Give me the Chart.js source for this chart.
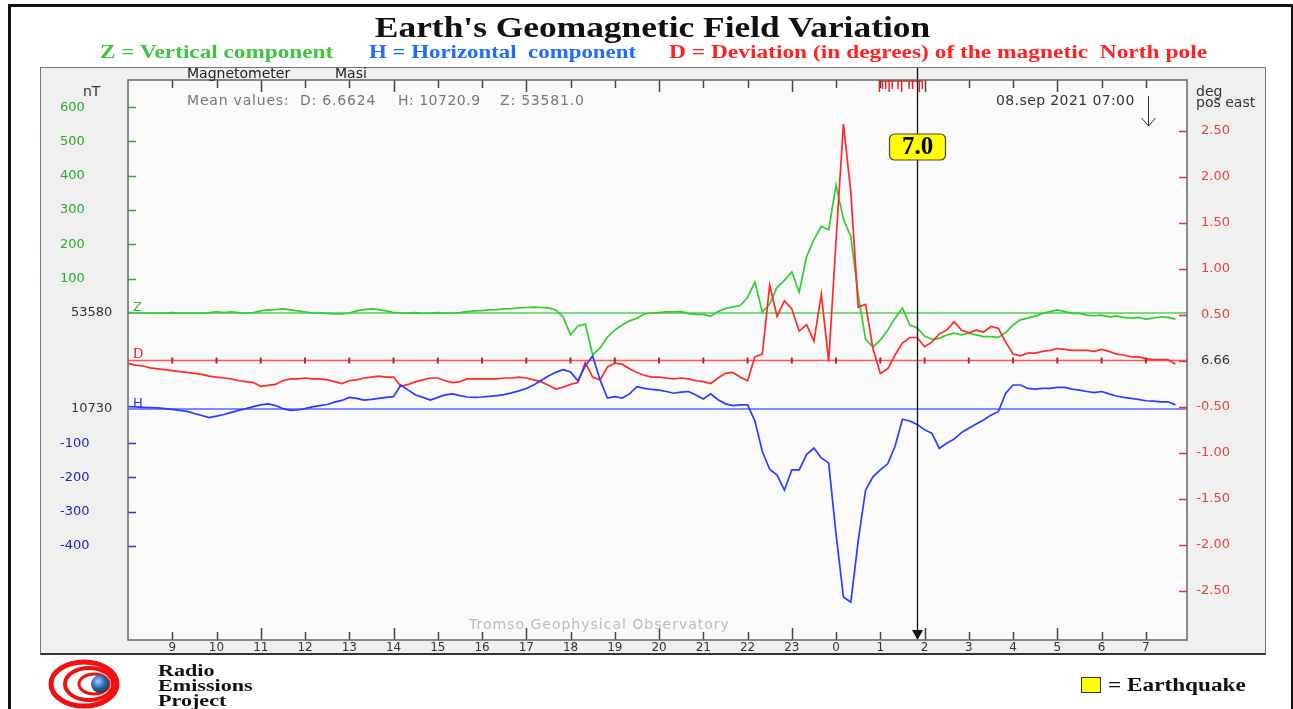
<!DOCTYPE html>
<html>
<head>
<meta charset="utf-8">
<script src="https://cdn.jsdelivr.net/npm/chart.js@4.4.1/dist/chart.umd.min.js"></script>
<style>
  body { margin: 0; width: 1293px; height: 709px; overflow: hidden; background: #fff; position: relative; font-family: "DejaVu Sans", sans-serif; }
  .abs { position: absolute; white-space: pre; }
  #frame { position: absolute; left: 8px; top: 4px; width: 1280px; height: 760px; border: 3px solid #111; }
  #panel { position: absolute; left: 40px; top: 67px; width: 1224px; height: 585px; background: #f0f0f0; border: 1px solid #777; border-bottom: 2px solid #333; }
  #chart { position: absolute; left: 0; top: 0; }
  .serif { font-family: "Liberation Serif", serif; font-weight: bold; }
  .small { font-size: 14px; line-height: 14px; }
  .wide { transform-origin: left center; }
</style>
</head>
<body>
<div id="frame"></div>
<div id="panel"></div>
<canvas id="chart" width="1293" height="709"></canvas>

<div class="abs serif" style="left:6px; top:12px; width:1293px; text-align:center; font-size:29px; line-height:30px; color:#111; transform:scaleX(1.22);">Earth's Geomagnetic Field Variation</div>
<div class="abs serif wide" style="left:100px; top:43px; font-size:18px; line-height:18px; color:#3ec43e; transform:scaleX(1.29);">Z = Vertical component</div>
<div class="abs serif wide" style="left:369px; top:43px; font-size:18px; line-height:18px; color:#1f6bff; transform:scaleX(1.27);">H = Horizontal  component</div>
<div class="abs serif wide" style="left:669px; top:43px; font-size:18px; line-height:18px; color:#ff2222; transform:scaleX(1.30);">D = Deviation (in degrees) of the magnetic  North pole</div>

<div class="abs small" style="left:187px; top:66px; color:#222;">Magnetometer</div>
<div class="abs small" style="left:335px; top:66px; color:#222;">Masi</div>
<div class="abs small" style="left:83px; top:84px; color:#333;">nT</div>
<div class="abs small" style="left:187px; top:93px; color:#777; letter-spacing:0.8px;">Mean values:</div>
<div class="abs small" style="left:300px; top:93px; color:#777; letter-spacing:0.8px;">D: 6.6624</div>
<div class="abs small" style="left:398px; top:93px; color:#777; letter-spacing:0.5px;">H: 10720.9</div>
<div class="abs small" style="left:500px; top:93px; color:#777; letter-spacing:0.8px;">Z: 53581.0</div>
<div class="abs small" style="left:996px; top:93px; color:#333; letter-spacing:0.4px;">08.sep 2021 07:00</div>
<div class="abs small" style="left:1196px; top:84px; color:#333;">deg</div>
<div class="abs small" style="left:1196px; top:95px; color:#333;">pos east</div>
<div class="abs small" style="left:469px; top:617px; color:#bbb; letter-spacing:1px;">Tromso Geophysical Observatory</div>

<svg class="abs" style="left:40px; top:656px;" width="90" height="53">
  <defs>
    <radialGradient id="globe" cx="40%" cy="35%" r="70%">
      <stop offset="0%" stop-color="#9fd0ff"/>
      <stop offset="55%" stop-color="#2a62b8"/>
      <stop offset="100%" stop-color="#1d3b2a"/>
    </radialGradient>
  </defs>
  <g fill="none" stroke="#ee1111">
    <ellipse cx="44" cy="28" rx="33" ry="22" stroke-width="5"/>
    <ellipse cx="49" cy="28" rx="24" ry="16" stroke-width="4"/>
    <ellipse cx="54" cy="28" rx="15" ry="10" stroke-width="3"/>
  </g>
  <circle cx="60" cy="28" r="9" fill="url(#globe)"/>
</svg>
<div class="abs serif wide" style="left:158px; top:663px; font-size:17px; line-height:15px; color:#111; transform:scaleX(1.3);">Radio
Emissions
Project</div>

<div class="abs" style="left:1081px; top:677px; width:18px; height:14px; background:#ffff00; border:1px solid #333;"></div>
<div class="abs serif wide" style="left:1108px; top:675px; font-size:18px; line-height:20px; color:#111; transform:scaleX(1.29);">= Earthquake</div>

<script>
// samples every 10 minutes, starting 7 sep 2021 08:00 (UT)
const startHour = 8;
const stepMinutes = 10;

const zBase = 53580; // nT
const hBase = 10730; // nT
const dBase = 6.66;  // deg

const zValues = [
  53581, 53580, 53580, 53580, 53580, 53580, 53581, 53580, 53580, 53580,
  53580, 53581, 53583, 53581, 53583, 53581, 53580, 53581, 53586, 53589,
  53590, 53592, 53589, 53586, 53583, 53580, 53580, 53579, 53577, 53577,
  53580, 53586, 53590, 53592, 53590, 53586, 53581, 53580, 53580, 53581,
  53579, 53580, 53581, 53580, 53580, 53581, 53584, 53586, 53587, 53589,
  53590, 53592, 53593, 53595, 53596, 53597, 53596, 53595, 53589, 53568,
  53516, 53542, 53548, 53458, 53478, 53510, 53530, 53545, 53557, 53565,
  53577, 53580, 53581, 53583, 53583, 53584, 53578, 53576, 53576, 53570,
  53584, 53593, 53598, 53601, 53626, 53670, 53583, 53606, 53655, 53675,
  53700, 53641, 53744, 53794, 53833, 53822, 53953, 53853, 53803, 53632,
  53504, 53481, 53501, 53530, 53565, 53595, 53545, 53536, 53513, 53503,
  53506, 53516, 53521, 53516, 53521, 53516, 53511, 53511, 53509, 53523,
  53545, 53560, 53565, 53571, 53579, 53584, 53589, 53584, 53579, 53579,
  53574, 53572, 53574, 53569, 53571, 53567, 53565, 53567, 53562, 53565,
  53569, 53567, 53562
];

const hValues = [
  10737, 10736, 10735, 10734, 10733, 10731, 10729, 10726, 10723, 10717,
  10711, 10705, 10709, 10714, 10720, 10726, 10731, 10737, 10742, 10745,
  10740, 10731, 10726, 10727, 10731, 10736, 10740, 10743, 10750, 10755,
  10764, 10761, 10756, 10758, 10761, 10764, 10766, 10800, 10785, 10771,
  10764, 10756, 10764, 10771, 10774, 10769, 10765, 10764, 10765, 10767,
  10769, 10772, 10777, 10783, 10790, 10800, 10813, 10826, 10837, 10845,
  10838, 10812, 10856, 10885, 10815, 10762, 10766, 10762, 10774, 10795,
  10790, 10787, 10785, 10781, 10776, 10779, 10781, 10771, 10759, 10774,
  10757, 10745, 10740, 10742, 10742, 10695, 10606, 10554, 10537, 10493,
  10552, 10552, 10597, 10616, 10587, 10572, 10364, 10181, 10166, 10345,
  10493, 10532, 10552, 10570, 10621, 10700, 10695, 10685, 10669, 10659,
  10615, 10630, 10642, 10661, 10674, 10686, 10698, 10712, 10722, 10776,
  10800, 10800, 10790, 10788, 10790, 10790, 10793, 10793, 10788, 10785,
  10781, 10778, 10781, 10774, 10768, 10764, 10761, 10758, 10754, 10753,
  10751, 10751, 10742
];

const dValues = [
  6.63, 6.61, 6.60, 6.58, 6.57, 6.56, 6.55, 6.54, 6.53, 6.52,
  6.51, 6.49, 6.48, 6.47, 6.46, 6.44, 6.43, 6.42, 6.38, 6.39,
  6.40, 6.44, 6.46, 6.46, 6.47, 6.46, 6.46, 6.45, 6.43, 6.41,
  6.44, 6.45, 6.47, 6.48, 6.49, 6.48, 6.48, 6.38, 6.40, 6.43,
  6.45, 6.47, 6.47, 6.44, 6.42, 6.43, 6.46, 6.46, 6.46, 6.46,
  6.46, 6.47, 6.47, 6.48, 6.47, 6.45, 6.43, 6.39, 6.35, 6.37,
  6.40, 6.42, 6.64, 6.48, 6.45, 6.59, 6.63, 6.62, 6.57, 6.53,
  6.50, 6.48, 6.48, 6.47, 6.46, 6.47, 6.46, 6.44, 6.43, 6.41,
  6.47, 6.52, 6.53, 6.48, 6.44, 6.70, 6.73, 7.48, 7.14, 7.31,
  7.22, 6.98, 7.05, 6.87, 7.38, 6.65, 7.97, 9.23, 8.49, 7.24,
  7.27, 6.79, 6.52, 6.57, 6.72, 6.85, 6.91, 6.91, 6.81, 6.86,
  6.95, 6.99, 7.08, 6.99, 6.96, 6.99, 6.97, 7.03, 7.01, 6.86,
  6.73, 6.71, 6.74, 6.74, 6.76, 6.77, 6.79, 6.78, 6.77, 6.77,
  6.77, 6.76, 6.78, 6.76, 6.73, 6.72, 6.70, 6.70, 6.68, 6.67,
  6.67, 6.67, 6.62
];

// tick offsets from the baselines
const zTickSteps = [600, 500, 400, 300, 200, 100];
const hTickSteps = [-100, -200, -300, -400];
const dTickSteps = [2.5, 2.0, 1.5, 1.0, 0.5, -0.5, -1.0, -1.5, -2.0, -2.5];
const hourTicks = [9, 10, 11, 12, 13, 14, 15, 16, 17, 18, 19, 20, 21, 22, 23, 0, 1, 2, 3, 4, 5, 6, 7];

// earthquake: 8 sep 01:50, magnitude 7.0
const quakeHour = 1 + 50 / 60;
const quakeMag = "7.0";
const nowHour = 7; // 08.sep 07:00
const flagHours = [0.98, 1.05, 1.12, 1.2, 1.27, 1.4, 1.48, 1.65, 1.73, 1.88, 1.95];

const toX = (h) => ((h - startHour + 24) % 24); // hours since start
const series = (vals) => vals.map((v, i) => ({ x: i * stepMinutes / 60, y: v }));
const xMax = 23.93;
const flat = (v) => [{ x: 0, y: v }, { x: xMax, y: v }];

const tickFont = { family: "DejaVu Sans", size: 13 };
const hidden = { display: false, drawTicks: false };

function fixWidth(w) {
  return (scale) => { scale.width = w; };
}

const chartPlugin = {
  id: "geomag",
  beforeDraw(chart) {
    const { ctx, chartArea: a } = chart;
    ctx.save();
    ctx.fillStyle = "#fafafa";
    ctx.fillRect(a.left, a.top, a.right - a.left, a.bottom - a.top);
    ctx.restore();
  },
  afterDatasetsDraw(chart) {
    const { ctx, chartArea: a, scales } = chart;
    const x = scales.x;
    ctx.save();
    // baseline letters
    ctx.font = "13px 'DejaVu Sans'";
    ctx.textBaseline = "bottom";
    ctx.fillStyle = "#33bb33";
    ctx.fillText("Z", a.left + 5, scales.yZ.getPixelForValue(zBase) + 1);
    ctx.fillStyle = "#ee2222";
    ctx.font = "14px 'Liberation Serif'";
    ctx.fillText("D", a.left + 5, scales.yD.getPixelForValue(dBase) + 1);
    ctx.fillStyle = "#2233ee";
    ctx.font = "13px 'DejaVu Sans'";
    ctx.fillText("H", a.left + 5, scales.yH.getPixelForValue(hBase) + 1);

    // hour marks on the D baseline
    const yd = scales.yD.getPixelForValue(dBase);
    ctx.strokeStyle = "#a03030";
    ctx.lineWidth = 2;
    hourTicks.forEach((h) => {
      const px = x.getPixelForValue(toX(h));
      ctx.beginPath();
      ctx.moveTo(px, yd - 3);
      ctx.lineTo(px, yd + 3);
      ctx.stroke();
    });

    // red flags at the top
    ctx.strokeStyle = "#ee2222";
    ctx.lineWidth = 1.5;
    const f0 = x.getPixelForValue(toX(flagHours[0]));
    const f1 = x.getPixelForValue(toX(flagHours[flagHours.length - 1]));
    ctx.beginPath();
    ctx.moveTo(f0, a.top + 1);
    ctx.lineTo(f1, a.top + 1);
    ctx.stroke();
    flagHours.forEach((h, i) => {
      const px = x.getPixelForValue(toX(h));
      ctx.beginPath();
      ctx.moveTo(px, a.top);
      ctx.lineTo(px, a.top + (i % 3 === 0 ? 12 : 9));
      ctx.stroke();
    });

    // earthquake line
    const qx = Math.round(x.getPixelForValue(toX(quakeHour))) + 0.5;
    ctx.strokeStyle = "#111";
    ctx.lineWidth = 1.3;
    ctx.beginPath();
    ctx.moveTo(qx, 68);
    ctx.lineTo(qx, a.bottom - 8);
    ctx.stroke();
    ctx.fillStyle = "#111";
    ctx.beginPath();
    ctx.moveTo(qx - 5.5, a.bottom - 10);
    ctx.lineTo(qx + 5.5, a.bottom - 10);
    ctx.lineTo(qx, a.bottom);
    ctx.closePath();
    ctx.fill();

    // magnitude box
    const bw = 56, bh = 26, by = 134;
    ctx.fillStyle = "#ffff00";
    ctx.strokeStyle = "#444";
    ctx.lineWidth = 1.2;
    ctx.beginPath();
    ctx.roundRect(qx - bw / 2, by, bw, bh, 5);
    ctx.fill();
    ctx.stroke();
    ctx.fillStyle = "#000";
    ctx.font = "bold 25px 'Liberation Serif'";
    ctx.textAlign = "center";
    ctx.textBaseline = "middle";
    ctx.fillText(quakeMag, qx, by + bh / 2 + 1);

    // "now" arrow
    const nx = Math.round(x.getPixelForValue(toX(nowHour))) + 2.5;
    ctx.strokeStyle = "#333";
    ctx.lineWidth = 1;
    ctx.beginPath();
    ctx.moveTo(nx, 96);
    ctx.lineTo(nx, 126);
    ctx.moveTo(nx - 7, 118);
    ctx.lineTo(nx, 126);
    ctx.lineTo(nx + 7, 118);
    ctx.stroke();
    ctx.restore();
  },
  afterDraw(chart) {
    const { ctx, chartArea: a, scales } = chart;
    ctx.save();
    // axis ticks drawn inward
    ctx.lineWidth = 1.5;
    ctx.strokeStyle = "#444";
    scales.x.ticks.forEach((t) => {
      const px = Math.round(scales.x.getPixelForValue(t.value)) + 0.5;
      const len = ((t.value + startHour) % 3 === 2) ? 12 : 8;
      ctx.beginPath();
      ctx.moveTo(px, a.top);
      ctx.lineTo(px, a.top + len);
      ctx.moveTo(px, a.bottom);
      ctx.lineTo(px, a.bottom - len);
      ctx.stroke();
    });
    const side = (scale, color, x0, x1) => {
      ctx.strokeStyle = color;
      scale.ticks.forEach((t) => {
        const py = Math.round(scale.getPixelForValue(t.value)) + 0.5;
        ctx.beginPath();
        ctx.moveTo(x0, py);
        ctx.lineTo(x1, py);
        ctx.stroke();
      });
    };
    side(scales.yZ, "#33aa33", a.left, a.left + 8);
    side(scales.yH, "#2233dd", a.left, a.left + 8);
    side(scales.yD, "#ee3333", a.right - 8, a.right);
    // plot frame
    ctx.strokeStyle = "#666";
    ctx.lineWidth = 1.5;
    ctx.strokeRect(a.left, a.top, a.right - a.left, a.bottom - a.top);
    ctx.restore();
  }
};

new Chart(document.getElementById("chart"), {
  type: "line",
  data: {
    datasets: [
      { label: "H", data: series(hValues), yAxisID: "yH", borderColor: "#2a3cff", borderWidth: 1.7 },
      { label: "D", data: series(dValues), yAxisID: "yD", borderColor: "#ff2a2a", borderWidth: 1.7 },
      { label: "Z", data: series(zValues), yAxisID: "yZ", borderColor: "#33cc33", borderWidth: 1.7 },
      { label: "H base", data: flat(hBase), yAxisID: "yH", borderColor: "#5566ff", borderWidth: 1.6 },
      { label: "D base", data: flat(dBase), yAxisID: "yD", borderColor: "#ff5555", borderWidth: 1.6 },
      { label: "Z base", data: flat(zBase), yAxisID: "yZ", borderColor: "#55cc55", borderWidth: 1.6 }
    ]
  },
  options: {
    responsive: false,
    animation: false,
    devicePixelRatio: 1,
    layout: { padding: { left: 60, right: 63, top: 80, bottom: 53 } },
    elements: { point: { radius: 0 }, line: { tension: 0 } },
    plugins: { legend: { display: false }, tooltip: { enabled: false } },
    scales: {
      x: {
        type: "linear",
        min: 0,
        max: xMax,
        grid: hidden,
        border: { display: false },
        afterFit: (s) => { s.height = 16; },
        afterBuildTicks: (s) => { s.ticks = hourTicks.map((h) => ({ value: toX(h) })); },
        ticks: {
          autoSkip: false,
          maxRotation: 0,
          padding: 1,
          color: "#333",
          font: { family: "DejaVu Sans", size: 12 },
          callback: (v) => String((v + startHour) % 24)
        }
      },
      // zero-width label axes at the outer edge (mirrored so they are not clipped)
      yHb: {
        position: "left",
        weight: 6,
        min: hBase - 674.5,
        max: hBase + 960.6,
        grid: hidden,
        border: { display: false },
        afterFit: fixWidth(0),
        afterBuildTicks: (s) => { s.ticks = [{ value: hBase }]; },
        ticks: { autoSkip: false, mirror: true, crossAlign: "far", padding: 11, color: "#333", font: tickFont, callback: (v) => String(v) }
      },
      yZb: {
        position: "left",
        weight: 5,
        min: zBase - 953.4,
        max: zBase + 679.3,
        grid: hidden,
        border: { display: false },
        afterFit: fixWidth(0),
        afterBuildTicks: (s) => { s.ticks = [{ value: zBase }]; },
        ticks: { autoSkip: false, mirror: true, crossAlign: "far", padding: 11, color: "#333", font: tickFont, callback: (v) => String(v) }
      },
      yH: {
        position: "left",
        weight: 4,
        min: hBase - 674.5,
        max: hBase + 960.6,
        grid: hidden,
        border: { display: false },
        afterFit: fixWidth(0),
        afterBuildTicks: (s) => { s.ticks = hTickSteps.map((d) => ({ value: hBase + d })); },
        ticks: { autoSkip: false, mirror: true, crossAlign: "near", padding: 0, color: "#2020c8", font: tickFont, callback: (v) => String(Math.round(v - hBase)) }
      },
      yZ: {
        position: "left",
        weight: 2,
        min: zBase - 953.4,
        max: zBase + 679.3,
        grid: hidden,
        border: { display: false },
        afterFit: fixWidth(68),
        afterBuildTicks: (s) => { s.ticks = zTickSteps.map((d) => ({ value: zBase + d })); },
        ticks: { autoSkip: false, crossAlign: "far", color: "#2ea82e", font: tickFont, callback: (v) => String(Math.round(v - zBase)) }
      },
      yD: {
        position: "right",
        min: dBase - 3.038,
        max: dBase + 3.049,
        grid: hidden,
        border: { display: false },
        afterFit: fixWidth(43),
        afterBuildTicks: (s) => { s.ticks = [dBase].concat(dTickSteps.map((d) => dBase + d)).map((v) => ({ value: v })); },
        ticks: {
          autoSkip: false,
          crossAlign: "far",
          font: tickFont,
          color: (c) => (Math.abs(c.tick.value - dBase) < 1e-6 ? "#333" : "#e8433a"),
          callback: (v) => (Math.abs(v - dBase) < 1e-6 ? dBase.toFixed(2) : (v - dBase).toFixed(2))
        }
      }
    }
  },
  plugins: [chartPlugin]
});
</script>
</body>
</html>
